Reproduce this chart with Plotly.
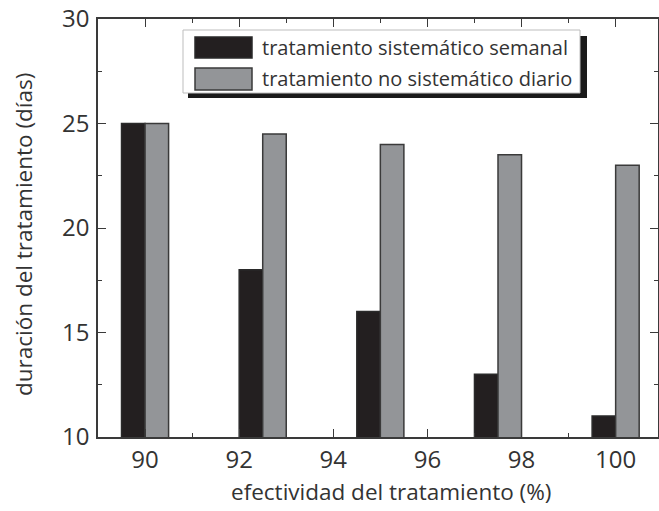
import plotly.graph_objects as go

x_vals = [90, 92.5, 95, 97.5, 100]
semanal = [25, 18, 16, 13, 11]
diario = [25, 24.5, 24, 23.5, 23]
series_names = ["tratamiento sistemático semanal", "tratamiento no sistemático diario"]
x_ticks = [90, 92, 94, 96, 98, 100]
y_ticks = [10, 15, 20, 25, 30]
x_title = "efectividad del tratamiento (%)"
y_title = "duración del tratamiento (días)"

W, H = 659, 511
L, R, T, B = 98, 658, 19, 437

def px(x):
    return (x - L) / (R - L)

def py(y):
    return (B - y) / (B - T)

FONT = "Open Sans"
TXT = "#333333"
fig = go.Figure()
fig.add_trace(go.Bar(x=x_vals, y=semanal, width=0.5, offset=-0.5, name=series_names[0],
                     marker=dict(color="#231f20", line=dict(color="#2a2a2a", width=1.5)),
                     showlegend=False))
fig.add_trace(go.Bar(x=x_vals, y=diario, width=0.5, offset=0, name=series_names[1],
                     marker=dict(color="#939598", line=dict(color="#3a3a3a", width=1.5)),
                     showlegend=False))

axis_common = dict(showline=True, linecolor="#3a3a3a", linewidth=1.5, mirror="ticks",
                   ticks="inside", ticklen=8, tickwidth=1.3, tickcolor="#3a3a3a",
                   showgrid=False, zeroline=False, ticklabeloverflow="allow", automargin=False,
                   tickfont=dict(family=FONT, size=24, color=TXT))

fig.update_xaxes(range=[89, 100.9], tickvals=x_ticks, ticktext=[str(v) for v in x_ticks],
                 minor=dict(dtick=1, tick0=89, ticks="inside", ticklen=4, tickcolor="#3a3a3a", tickwidth=1.3),
                 **axis_common)
fig.update_yaxes(range=[10, 30], tickvals=y_ticks, ticklabelstandoff=2,
                 minor=dict(dtick=2.5, tick0=10, ticks="inside", ticklen=4, tickcolor="#3a3a3a", tickwidth=1.3),
                 **axis_common)

shapes = [
    dict(type="rect", xref="paper", yref="paper", x0=px(188), x1=px(587), y0=py(98), y1=py(36),
         fillcolor="#1a1a1a", line=dict(width=0), layer="above"),
    dict(type="rect", xref="paper", yref="paper", x0=px(183), x1=px(580), y0=py(93), y1=py(30),
         fillcolor="white", line=dict(color="#bdbdbd", width=1), layer="above"),
    dict(type="rect", xref="paper", yref="paper", x0=px(195), x1=px(252), y0=py(58), y1=py(37),
         fillcolor="#231f20", line=dict(color="#2a2a2a", width=1.5), layer="above"),
    dict(type="rect", xref="paper", yref="paper", x0=px(195), x1=px(252), y0=py(90), y1=py(68),
         fillcolor="#939598", line=dict(color="#3a3a3a", width=1.5), layer="above"),
]
annotations = [
    dict(xref="paper", yref="paper", x=px(260), y=py(47.5), text=series_names[0], showarrow=False,
         xanchor="left", yanchor="middle", font=dict(family=FONT, size=20, color=TXT)),
    dict(xref="paper", yref="paper", x=px(260), y=py(79), text=series_names[1], showarrow=False,
         xanchor="left", yanchor="middle", font=dict(family=FONT, size=20, color=TXT)),
    dict(xref="paper", yref="paper", x=px(391), y=py(491), text=x_title, showarrow=False,
         xanchor="center", yanchor="middle", font=dict(family=FONT, size=22.5, color=TXT)),
    dict(xref="paper", yref="paper", x=px(23), y=py(235), text=y_title, showarrow=False, textangle=-90,
         xanchor="center", yanchor="middle", font=dict(family=FONT, size=22.5, color=TXT)),
]

fig.update_layout(width=W, height=H, margin=dict(l=L, r=W - R, t=T, b=H - B, autoexpand=False),
                  plot_bgcolor="white", paper_bgcolor="white", barmode="overlay",
                  shapes=shapes, annotations=annotations, showlegend=False)

# remove the browser's default 8px body margin so the figure fills the window exactly
fig.write_html("out.html", config={"displayModeBar": False},
               post_script="document.body.style.margin='0';document.body.style.overflow='hidden';")
